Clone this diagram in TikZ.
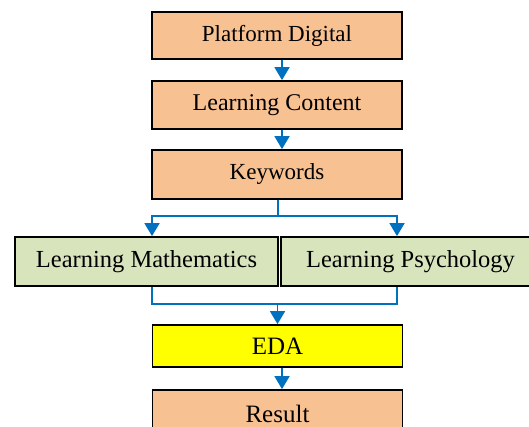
\documentclass[tikz,border=0pt]{standalone}
\usepackage{fontspec}
\setmainfont{Liberation Serif}
\usetikzlibrary{arrows.meta}

\definecolor{boxorange}{HTML}{F8C192}
\definecolor{boxgreen}{HTML}{D8E4BC}
\definecolor{boxyellow}{HTML}{FFFF00}
\definecolor{linkblue}{HTML}{0070C0}

\tikzset{
  stepbox/.style={draw=black, line width=1.8pt, fill=boxorange, inner sep=0pt,
    font=\fontsize{23}{27}\selectfont},
  greenbox/.style={stepbox, fill=boxgreen, font=\fontsize{24.5}{28}\selectfont},
  link/.style={draw=linkblue, line width=1.8pt},
  arr/.style={link, -{Triangle[width=15pt,length=13pt]}},
}

\begin{document}
\begin{tikzpicture}[x=1pt, y=-1pt]

\useasboundingbox (0,0) rectangle (529,427);

\def\xm{277}; % middle column
\def\wm{250}; % width of middle boxes

\node[stepbox, minimum width=\wm pt, minimum height=47pt] (pd) at (\xm, 35.5) {Platform Digital};
\node[stepbox, minimum width=\wm pt, minimum height=48pt,
  font=\fontsize{24}{28}\selectfont] (lc) at (\xm, 105) {Learning Content};
\node[stepbox, minimum width=\wm pt, minimum height=49pt] (kw) at (\xm, 174.5) {Keywords};

\node[greenbox, minimum width=263pt, minimum height=49pt] (lm) at (146.5, 261.5) {Learning Mathematics};
\node[greenbox, minimum width=259pt, minimum height=49pt] (lp) at (410.5, 261.5) {Learning Psychology};

\node[stepbox, fill=boxyellow, minimum width=\wm pt, minimum height=42pt,
  font=\fontsize{25}{29}\selectfont] (eda) at (277.5, 346) {EDA};
\node[stepbox, minimum width=\wm pt, minimum height=47pt,
  font=\fontsize{25}{29}\selectfont] (res) at (277.5, 413.5) {Result};

% straight steps
\draw[arr] ([xshift=5pt]pd.south) -- ([xshift=5pt]lc.north);
\draw[arr] ([xshift=5pt]lc.south) -- ([xshift=5pt]kw.north);
\draw[arr] ([xshift=4.5pt]eda.south) -- ([xshift=4.5pt]res.north);

% split
\draw[link] ([xshift=1pt]kw.south) -- ++(0,16) coordinate (sp);
\draw[arr] (sp) -| ([xshift=5.5pt]lm.north);
\draw[arr] (sp) -| ([xshift=-13.5pt]lp.north);

% merge
\draw[link] ([xshift=5.5pt]lm.south) -- ++(0,17) coordinate (mj) -| ([xshift=-13.5pt]lp.south);
\draw[arr] (mj -| eda.north) -- (eda.north);

\end{tikzpicture}
\end{document}
